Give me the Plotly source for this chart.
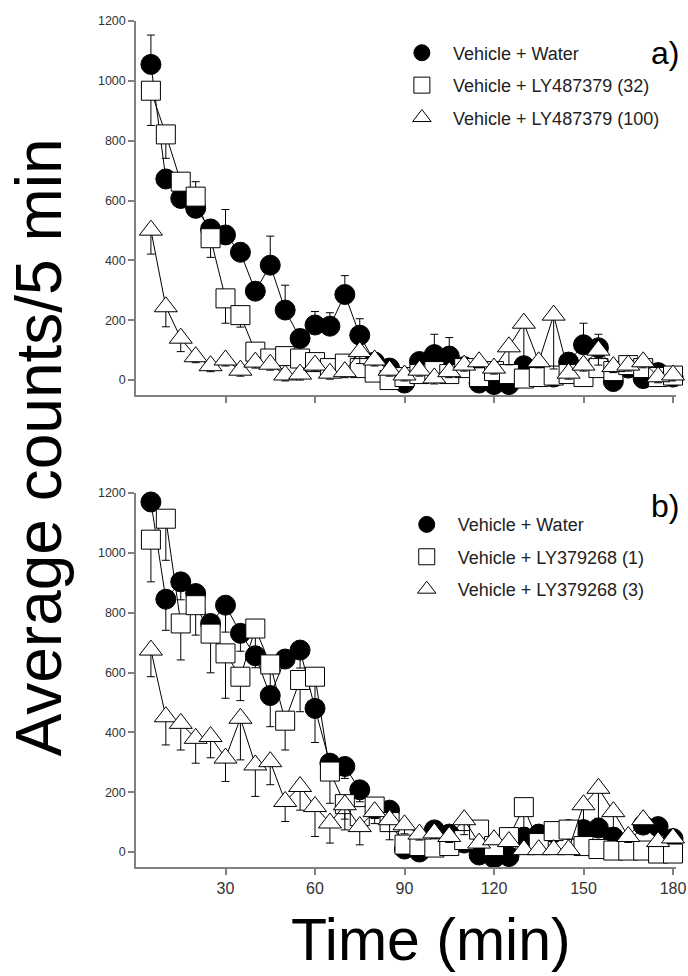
import plotly.graph_objects as go

# ---------------- data ----------------
time_min = [5, 10, 15, 20, 25, 30, 35, 40, 45, 50, 55, 60, 65, 70, 75, 80, 85, 90,
            95, 100, 105, 110, 115, 120, 125, 130, 135, 140, 145, 150, 155, 160, 165, 170, 175, 180]
x_ticks = [30, 60, 90, 120, 150, 180]
y_ticks = [0, 200, 400, 600, 800, 1000, 1200]

# panel a
a_water = [1055, 672, 607, 574, 505, 485, 427, 297, 384, 234, 139, 184, 180, 286, 150, 60, 40, -10,
           62, 85, 80, 45, -10, -15, -15, 48, 25, 10, 60, 118, 108, -5, 40, 5, 25, 10]
a_water_up = [98, 30, 30, 30, 30, 85, 30, 30, 97, 83, 30, 45, 45, 63, 55, 20, 20, 20,
              20, 68, 62, 20, 20, 20, 20, 20, 20, 20, 20, 72, 45, 20, 20, 20, 20, 20]
a_water_dn = [0] * 36

a_ly32 = [967, 821, 663, 613, 474, 273, 217, 95, 72, 80, 72, 60, 40, 55, 40, 25, 0, 10,
          20, 30, 20, 40, 10, 30, 20, 5, 10, 15, 20, 10, 40, 30, 50, 40, 10, 15]
a_ly32_up = [0, 0, 0, 50, 0, 0, 0, 0, 0, 0, 0, 0, 0, 0, 0, 0, 0, 0,
             0, 0, 0, 0, 0, 0, 0, 0, 0, 0, 0, 0, 0, 0, 0, 0, 0, 0]
a_ly32_dn = [116, 80, 30, 0, 64, 83, 40, 20, 20, 20, 20, 20, 20, 20, 20, 20, 20, 20,
             20, 20, 20, 20, 20, 20, 20, 20, 20, 20, 20, 20, 20, 20, 20, 20, 20, 20]

a_ly100 = [501, 245, 140, 78, 48, 67, 33, 60, 53, 17, 20, 50, 23, 28, 95, 67, 33, 17,
           33, 7, 28, 50, 61, 40, 111, 190, 61, 217, 23, 50, 100, 45, 50, 61, 11, 17]
a_ly100_up = [0] * 36
a_ly100_dn = [80, 67, 45, 20, 20, 20, 20, 20, 20, 20, 20, 20, 20, 20, 40, 20, 20, 20,
              20, 20, 20, 20, 20, 20, 60, 150, 20, 180, 20, 20, 50, 20, 20, 20, 20, 20]

# panel b
b_water = [1170, 845, 903, 864, 764, 825, 731, 656, 523, 645, 675, 480, 297, 286, 208, 145, 140, 10,
           0, 74, 60, 30, -10, -20, -15, 50, 60, 65, 75, 75, 80, 50, 30, 90, 85, 45]
b_water_up = [0] * 36
b_water_dn = [30, 104, 60, 50, 40, 90, 60, 40, 104, 30, 60, 114, 40, 40, 40, 20, 20, 20,
              20, 20, 20, 20, 20, 20, 20, 20, 20, 20, 20, 20, 20, 20, 20, 20, 20, 20]

b_ly1 = [1044, 1114, 764, 825, 730, 664, 586, 747, 627, 439, 575, 586, 269, 160, 120, 152, 100, 25,
         20, 15, 20, 40, 75, 20, 50, 150, 30, 70, 75, 20, 10, 5, 5, 5, -5, -5]
b_ly1_up = [0] * 36
b_ly1_dn = [141, 139, 122, 100, 131, 150, 80, 60, 102, 98, 106, 80, 106, 50, 40, 40, 30, 15,
            15, 15, 15, 15, 15, 15, 15, 70, 15, 15, 15, 15, 15, 15, 15, 15, 15, 15]

b_ly3 = [675, 452, 430, 380, 386, 314, 447, 291, 302, 169, 219, 152, 97, 158, 85, 135, 108, 91,
         60, 64, 52, 108, 30, 41, 35, 8, 8, 8, 8, 158, 213, 135, 52, 108, 35, 47]
b_ly3_up = [0] * 36
b_ly3_dn = [89, 94, 89, 83, 71, 78, 139, 105, 77, 67, 79, 100, 67, 84, 61, 40, 67, 30,
            20, 20, 20, 50, 15, 15, 15, 15, 15, 15, 15, 60, 100, 60, 20, 30, 15, 15]

names_a = ["Vehicle + Water", "Vehicle + LY487379 (32)", "Vehicle + LY487379 (100)"]
names_b = ["Vehicle + Water", "Vehicle + LY379268 (1)", "Vehicle + LY379268 (3)"]

# ---------------- styling ----------------
FONT = "Liberation Sans, Arial, sans-serif"
AX = "#808080"
styles = [
    dict(symbol="circle", color="black", size=20),
    dict(symbol="square", color="white", size=19),
    dict(symbol="triangle-up", color="white", size=20),
]

fig = go.Figure()


def add_series(x, y, up, dn, name, st, xa, ya, leg, grp):
    fig.add_trace(go.Scatter(
        x=x, y=y, mode="lines", xaxis=xa, yaxis=ya, showlegend=False,
        line=dict(color="black", width=1), cliponaxis=False, hoverinfo="skip",
        legendgroup=grp, legend=leg))
    fig.add_trace(go.Scatter(
        x=x, y=y, mode="markers", name=name, xaxis=xa, yaxis=ya, legend=leg,
        legendgroup=grp, cliponaxis=False,
        marker=dict(symbol=st["symbol"], color=st["color"], size=st["size"],
                    line=dict(color="black", width=1)),
        error_y=dict(type="data", symmetric=False, array=up, arrayminus=dn,
                     color="black", thickness=1, width=4)))


panel_a = [(a_water, a_water_up, a_water_dn), (a_ly32, a_ly32_up, a_ly32_dn), (a_ly100, a_ly100_up, a_ly100_dn)]
panel_b = [(b_water, b_water_up, b_water_dn), (b_ly1, b_ly1_up, b_ly1_dn), (b_ly3, b_ly3_up, b_ly3_dn)]

for i, (y, up, dn) in enumerate(panel_a):
    add_series(time_min, y, up, dn, names_a[i], styles[i], "x", "y", "legend", "a%d" % i)
for i, (y, up, dn) in enumerate(panel_b):
    add_series(time_min, y, up, dn, names_b[i], styles[i], "x2", "y2", "legend2", "b%d" % i)

common_x = dict(range=[0, 181], showline=True, linecolor=AX, linewidth=1.5,
                ticks="outside", ticklen=6, tickcolor=AX, tickwidth=1.5,
                tickvals=x_ticks, showgrid=False, zeroline=False,
                tickfont=dict(family=FONT, size=16, color="#333"))
common_y = dict(range=[-50, 1200], showline=True, linecolor=AX, linewidth=1.5,
                ticks="outside", ticklen=6, tickcolor=AX, tickwidth=1.5,
                tickvals=y_ticks, showgrid=False, zeroline=False,
                tickfont=dict(family=FONT, size=12.5, color="#333"))

leg_common = dict(font=dict(family=FONT, size=18, color="#222"), bgcolor="rgba(0,0,0,0)",
                  tracegroupgap=6, itemsizing="trace", itemwidth=52,
                  xanchor="left", yanchor="top")

fig.update_layout(
    width=688, height=976,
    margin=dict(l=136, r=11.5, t=21, b=109, autoexpand=False),
    paper_bgcolor="white", plot_bgcolor="white",
    showlegend=True,
    xaxis=dict(**common_x, anchor="y", domain=[0, 1], showticklabels=False),
    yaxis=dict(**common_y, anchor="x", domain=[0.5579, 1]),
    xaxis2=dict(**common_x, anchor="y2", domain=[0, 1]),
    yaxis2=dict(**common_y, anchor="x2", domain=[0, 0.4421]),
    legend=dict(**leg_common, x=0.472, y=0.984),
    legend2=dict(**leg_common, x=0.481, y=0.4265),
    annotations=[
        dict(text="a)", xref="paper", yref="paper", x=0.98, y=0.962, showarrow=False,
             xanchor="center", yanchor="middle", font=dict(family=FONT, size=32, color="black")),
        dict(text="b)", xref="paper", yref="paper", x=0.98, y=0.427, showarrow=False,
             xanchor="center", yanchor="middle", font=dict(family=FONT, size=32, color="black")),
        dict(text="Average counts/5 min", xref="paper", yref="paper", x=-0.178, y=0.496,
             showarrow=False, textangle=-90, xanchor="center", yanchor="middle",
             font=dict(family=FONT, size=64, color="black")),
        dict(text="Time (min)", xref="paper", yref="paper", x=0.546, y=-0.086,
             showarrow=False, xanchor="center", yanchor="middle",
             font=dict(family=FONT, size=59, color="black")),
    ],
)

fig.write_html("out.html", config={"displayModeBar": False},
               post_script="document.body.style.margin='0px';")
